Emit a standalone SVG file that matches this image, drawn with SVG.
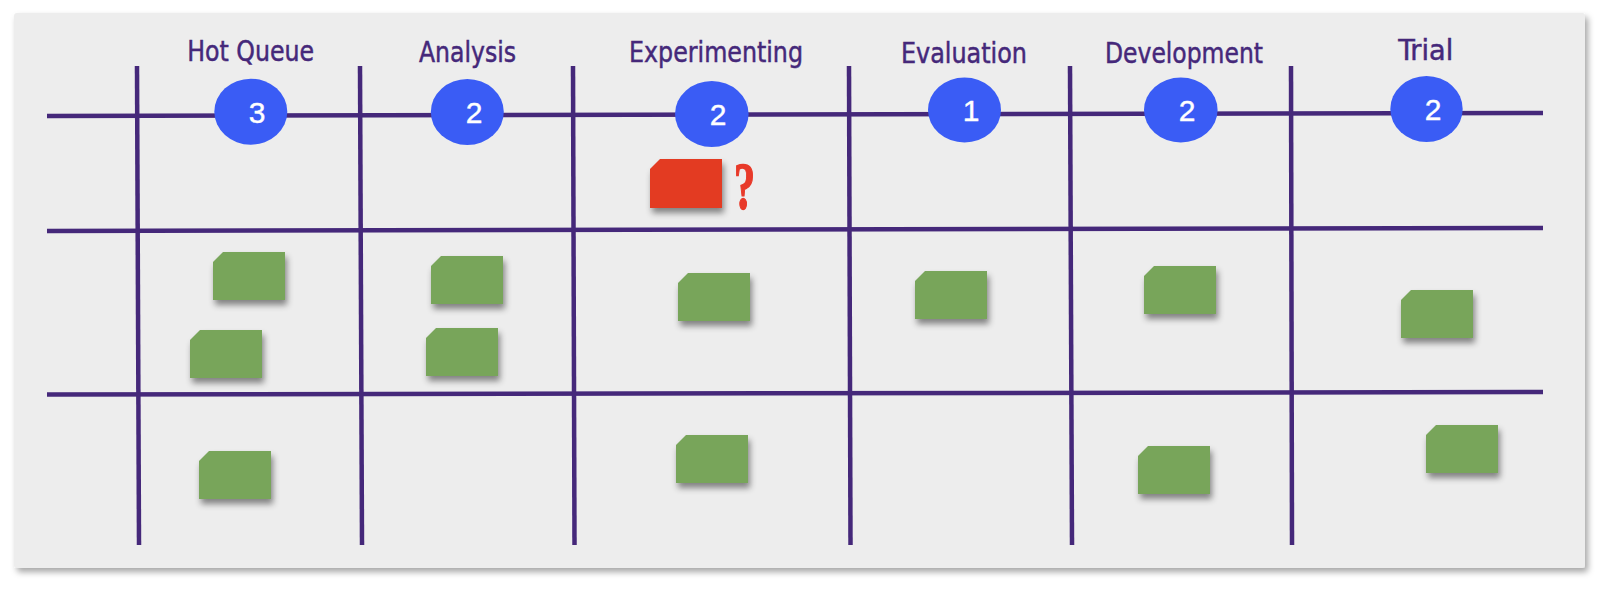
<svg xmlns="http://www.w3.org/2000/svg" width="1600" height="590" viewBox="0 0 1600 590">
<defs>
<filter id="panelShadow" x="-5%" y="-5%" width="110%" height="115%">
<feDropShadow dx="3" dy="4" stdDeviation="3" flood-color="#000" flood-opacity="0.35"/>
</filter>
<filter id="cardShadow" x="-30%" y="-30%" width="160%" height="180%">
<feDropShadow dx="2" dy="5" stdDeviation="3" flood-color="#000" flood-opacity="0.45"/>
</filter>
<path id="card" d="M10,0 H72 V48 H0 V10 Z"/>
</defs>
<style>
.grid line{stroke:#45287a;stroke-width:4.5;stroke-linecap:butt}
.hdr{font-family:"DejaVu Sans Condensed","DejaVu Sans",sans-serif;font-size:28px;fill:#45287a;stroke:#45287a;stroke-width:0.45px;text-anchor:middle}
.badge{fill:#3a5cf5}
.num{font-family:"Liberation Sans",Arial,sans-serif;font-size:30px;fill:#ffffff;stroke:#ffffff;stroke-width:0.4px;text-anchor:middle}
.green{fill:#78a55a;filter:url(#cardShadow)}
.red{fill:#e33b23;filter:url(#cardShadow)}
</style>
<rect width="1600" height="590" fill="#ffffff"/>
<rect id="board" x="14" y="13" width="1571" height="555" rx="3" fill="#ededed" filter="url(#panelShadow)"/>
<g id="connectors" class="grid">
<line x1="47" y1="116" x2="1543" y2="113"/>
<line x1="47" y1="231" x2="1543" y2="228"/>
<line x1="47" y1="394.5" x2="1543" y2="392"/>
<line x1="137" y1="66" x2="139" y2="545"/>
<line x1="360" y1="66" x2="362" y2="545"/>
<line x1="573" y1="66" x2="574.5" y2="545"/>
<line x1="849" y1="66" x2="850.5" y2="545"/>
<line x1="1070" y1="66" x2="1072" y2="545"/>
<line x1="1291" y1="66" x2="1292" y2="545"/>
</g>
<g id="col-hot-queue">
<text class="hdr" x="250.7" y="61" textLength="127" lengthAdjust="spacingAndGlyphs">Hot Queue</text>
<ellipse class="badge" cx="250.8" cy="111.7" rx="36.5" ry="33"/>
<text class="num" x="257" y="122.5">3</text>
</g>
<g id="col-analysis">
<text class="hdr" x="467.5" y="62" textLength="97" lengthAdjust="spacingAndGlyphs">Analysis</text>
<ellipse class="badge" cx="467.3" cy="112" rx="36.5" ry="33"/>
<text class="num" x="474" y="123">2</text>
</g>
<g id="col-experimenting">
<text class="hdr" x="716" y="62" textLength="174" lengthAdjust="spacingAndGlyphs">Experimenting</text>
<ellipse class="badge" cx="711.8" cy="114" rx="36.8" ry="33"/>
<text class="num" x="718" y="125">2</text>
</g>
<g id="col-evaluation">
<text class="hdr" x="964" y="62.7" textLength="126" lengthAdjust="spacingAndGlyphs">Evaluation</text>
<ellipse class="badge" cx="964.5" cy="110" rx="36.5" ry="32.5"/>
<text class="num" x="971" y="121">1</text>
</g>
<g id="col-development">
<text class="hdr" x="1184" y="62.7" textLength="158" lengthAdjust="spacingAndGlyphs">Development</text>
<ellipse class="badge" cx="1180.8" cy="110" rx="36.8" ry="32.5"/>
<text class="num" x="1187" y="121">2</text>
</g>
<g id="col-trial">
<text class="hdr" x="1425.7" y="60" textLength="55" lengthAdjust="spacingAndGlyphs">Trial</text>
<ellipse class="badge" cx="1426.5" cy="109" rx="36.2" ry="33"/>
<text class="num" x="1433" y="120">2</text>
</g>
<g id="blocked-card">
<path class="red" d="M660,159 H722 V208 H650 V169 Z"/>
<text x="0" y="0" transform="translate(744.5,209) scale(0.62,1)" font-family="Liberation Serif,serif" font-weight="bold" font-size="68" fill="#e83a2a" stroke="#e83a2a" stroke-width="1.5" text-anchor="middle">?</text>
</g>
<g id="cards">
<use href="#card" class="green" x="213" y="252"/>
<use href="#card" class="green" x="190" y="330"/>
<use href="#card" class="green" x="199" y="451"/>
<use href="#card" class="green" x="431" y="256"/>
<use href="#card" class="green" x="426" y="328"/>
<use href="#card" class="green" x="678" y="273"/>
<use href="#card" class="green" x="676" y="435"/>
<use href="#card" class="green" x="915" y="271"/>
<use href="#card" class="green" x="1144" y="266"/>
<use href="#card" class="green" x="1138" y="446"/>
<use href="#card" class="green" x="1401" y="290"/>
<use href="#card" class="green" x="1426" y="425"/>
</g>
</svg>
